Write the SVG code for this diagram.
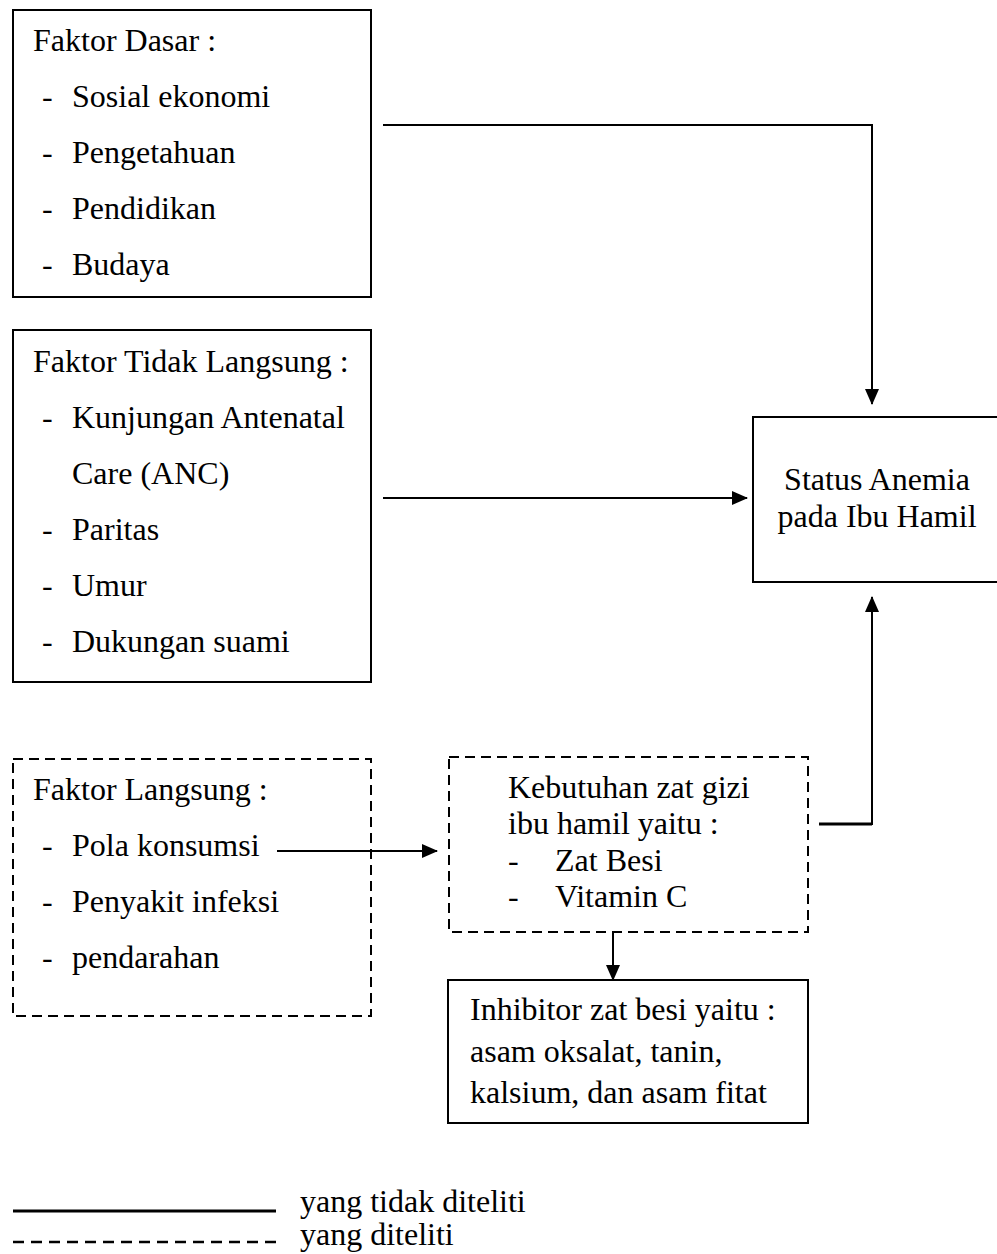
<svg xmlns="http://www.w3.org/2000/svg" width="997" height="1254" viewBox="0 0 997 1254">
<style>
text{font-family:"Liberation Serif","Times New Roman",serif;font-size:32px;fill:#000}
.box{fill:none;stroke:#000;stroke-width:2}
.dash{fill:none;stroke:#000;stroke-width:2;stroke-dasharray:10 6}
.ln{fill:none;stroke:#000;stroke-width:2}
.thick{fill:none;stroke:#000;stroke-width:3}
</style>
<defs>
<marker id="ahl" markerWidth="16" markerHeight="14" refX="15" refY="7" orient="auto" markerUnits="userSpaceOnUse" viewBox="0 0 16 14">
<path d="M0,0 L16,7 L0,14 Z" fill="#000"/>
</marker>
</defs>
<rect width="997" height="1254" fill="#fff"/>
<g id="faktor-dasar">
<rect class="box" x="13" y="10" width="358" height="287"/>
<text x="33" y="51">Faktor Dasar :</text>
<text x="42" y="107">-</text><text x="72" y="107">Sosial ekonomi</text>
<text x="42" y="163">-</text><text x="72" y="163">Pengetahuan</text>
<text x="42" y="219">-</text><text x="72" y="219">Pendidikan</text>
<text x="42" y="275">-</text><text x="72" y="275">Budaya</text>
</g>
<g id="faktor-tidak-langsung">
<rect class="box" x="13" y="330" width="358" height="352"/>
<text x="33" y="372">Faktor Tidak Langsung :</text>
<text x="42" y="428">-</text><text x="72" y="428">Kunjungan Antenatal</text>
<text x="72" y="484">Care (ANC)</text>
<text x="42" y="540">-</text><text x="72" y="540">Paritas</text>
<text x="42" y="596">-</text><text x="72" y="596">Umur</text>
<text x="42" y="652">-</text><text x="72" y="652">Dukungan suami</text>
</g>
<g id="faktor-langsung">
<rect class="dash" x="13" y="759" width="358" height="257"/>
<text x="33" y="800">Faktor Langsung :</text>
<text x="42" y="856">-</text><text x="72" y="856">Pola konsumsi</text>
<text x="42" y="912">-</text><text x="72" y="912">Penyakit infeksi</text>
<text x="42" y="968">-</text><text x="72" y="968">pendarahan</text>
</g>
<g id="status-anemia">
<rect class="box" x="753" y="417" width="260" height="165"/>
<text x="877" y="490" text-anchor="middle">Status Anemia</text>
<text x="877" y="527" text-anchor="middle">pada Ibu Hamil</text>
</g>
<g id="kebutuhan-gizi">
<rect class="dash" x="449" y="757" width="359" height="175"/>
<text x="508" y="798">Kebutuhan zat gizi</text>
<text x="508" y="834">ibu hamil yaitu :</text>
<text x="508" y="871">-</text><text x="555" y="871">Zat Besi</text>
<text x="508" y="907">-</text><text x="555" y="907">Vitamin C</text>
</g>
<g id="inhibitor">
<rect class="box" x="448" y="980" width="360" height="143"/>
<text x="470" y="1020">Inhibitor zat besi yaitu :</text>
<text x="470" y="1062">asam oksalat, tanin,</text>
<text x="470" y="1103">kalsium, dan asam fitat</text>
</g>
<g id="connectors">
<polyline class="ln" points="383,125 872,125 872,404" marker-end="url(#ahl)"/>
<line class="ln" x1="383" y1="498" x2="747" y2="498" marker-end="url(#ahl)"/>
<line class="thick" x1="819" y1="824" x2="872" y2="824"/>
<line class="ln" x1="872" y1="825" x2="872" y2="597" marker-end="url(#ahl)"/>
<line class="ln" x1="277" y1="851" x2="437" y2="851" marker-end="url(#ahl)"/>
<line class="ln" x1="613" y1="932" x2="613" y2="980" marker-end="url(#ahl)"/>
</g>
<g id="legend">
<line x1="13" y1="1211" x2="276" y2="1211" stroke="#000" stroke-width="3"/>
<line x1="13" y1="1242" x2="276" y2="1242" stroke="#000" stroke-width="2.5" stroke-dasharray="11 7"/>
<text x="300" y="1212">yang tidak diteliti</text>
<text x="300" y="1245">yang diteliti</text>
</g>
</svg>
